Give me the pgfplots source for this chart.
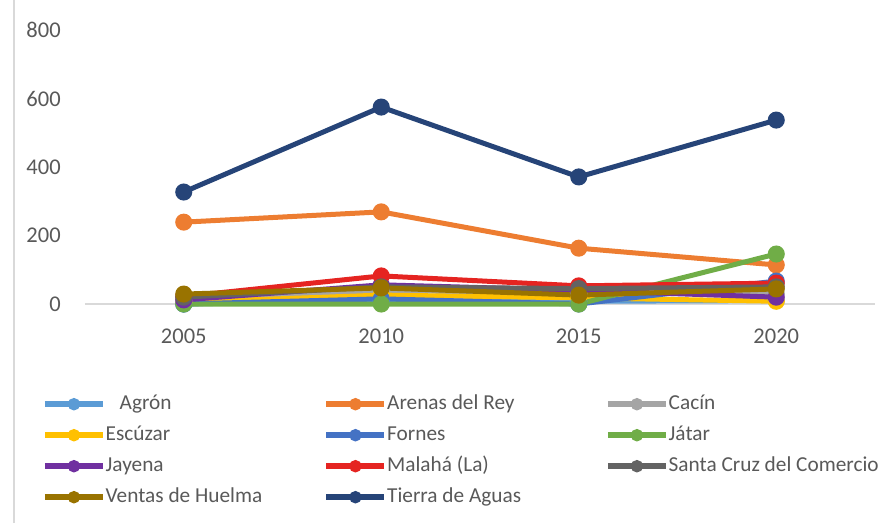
\documentclass[border=0pt]{standalone}
\usepackage{pgfplots}
\pgfplotsset{compat=1.18}
\usepackage{fontspec}
\setmainfont{Carlito}
\definecolor{cAgron}{HTML}{5B9BD5}
\definecolor{cArenas}{HTML}{ED7D31}
\definecolor{cCacin}{HTML}{A5A5A5}
\definecolor{cEscuzar}{HTML}{FFC000}
\definecolor{cFornes}{HTML}{4472C4}
\definecolor{cJatar}{HTML}{70AD47}
\definecolor{cJayena}{HTML}{7030A0}
\definecolor{cMalaha}{HTML}{E52421}
\definecolor{cSanta}{HTML}{636363}
\definecolor{cVentas}{HTML}{997300}
\definecolor{cTierra}{HTML}{264478}
\definecolor{txtgray}{HTML}{595959}
\definecolor{gridgray}{HTML}{D9D9D9}
\newcommand{\lt}[1]{\makebox[218pt][l]{#1}}
\begin{document}
\begin{tikzpicture}
\useasboundingbox (-85pt,-219pt) rectangle (805pt,304pt);
\draw[gridgray, line width=1.5pt] (-71pt,-219pt) -- (-71pt,304pt);
\begin{axis}[
  at={(0pt,0pt)}, anchor=south west,
  scale only axis, width=790pt, height=274pt,
  xmin=-0.5, xmax=3.5, ymin=0, ymax=800,
  xtick={0,1,2,3}, xticklabels={2005,2010,2015,2020},
  ytick={0,200,400,600,800},
  axis x line=bottom, axis y line=left,
  x axis line style={-, draw=gridgray, line width=1.5pt},
  y axis line style={draw=none},
  tick style={draw=none},
  clip=false,
  /pgf/number format/assume math mode=true,
  /pgf/number format/1000 sep={},
  yticklabel style={font=\fontsize{22.5}{26}\selectfont, text=txtgray, anchor=east, inner sep=0pt, xshift=-22pt},
  xticklabel style={font=\fontsize{22.5}{26}\selectfont, text=txtgray, anchor=north, inner sep=0pt, yshift=-23pt},
  every axis plot/.append style={line width=5pt, mark=*, mark size=6pt, mark options={solid}},
  legend columns=3,
  legend cell align=left,
  legend style={at={(0,0)}, anchor=north west, xshift=-43pt, yshift=-91pt,
    draw=none, fill=none, inner sep=0pt,
    font=\fontsize{21.3}{24}\selectfont, text=txtgray,
    nodes={inner sep=0pt, text height=14pt, text depth=4pt},
    row sep=13pt, column sep=0pt},
  legend image code/.code={
    \draw[#1, mark=none, line width=5.5pt] (0pt,0pt) -- (58pt,0pt);
    \fill[#1, mark=none] (29pt,0pt) circle (3.6pt);
  },
]
\addplot[color=cAgron] coordinates {(0,0) (1,10) (2,8) (3,10)};
\addlegendentry{\lt{\hspace{14pt}Agrón}}
\addplot[color=cArenas] coordinates {(0,239) (1,269) (2,163) (3,114)};
\addlegendentry{\lt{Arenas del Rey}}
\addplot[color=cCacin] coordinates {(0,10) (1,40) (2,30) (3,30)};
\addlegendentry{\lt{Cacín}}
\addplot[color=cEscuzar] coordinates {(0,5) (1,26) (2,18) (3,8)};
\addlegendentry{\lt{Escúzar}}
\addplot[color=cFornes] coordinates {(0,0) (1,15) (2,0) (3,67)};
\addlegendentry{\lt{Fornes}}
\addplot[color=cJatar] coordinates {(0,0) (1,0) (2,0) (3,146)};
\addlegendentry{\lt{Játar}}
\addplot[color=cJayena] coordinates {(0,12) (1,56) (2,40) (3,20)};
\addlegendentry{\lt{Jayena}}
\addplot[color=cMalaha] coordinates {(0,22) (1,82) (2,53) (3,61)};
\addlegendentry{\lt{Malahá (La)}}
\addplot[color=cSanta] coordinates {(0,20) (1,50) (2,45) (3,50)};
\addlegendentry{\lt{Santa Cruz del Comercio}}
\addplot[color=cVentas] coordinates {(0,29) (1,47) (2,26) (3,44)};
\addlegendentry{\lt{Ventas de Huelma}}
\addplot[color=cTierra] coordinates {(0,327) (1,575) (2,371) (3,537)};
\addlegendentry{\lt{Tierra de Aguas}}
\end{axis}
\end{tikzpicture}
\end{document}
